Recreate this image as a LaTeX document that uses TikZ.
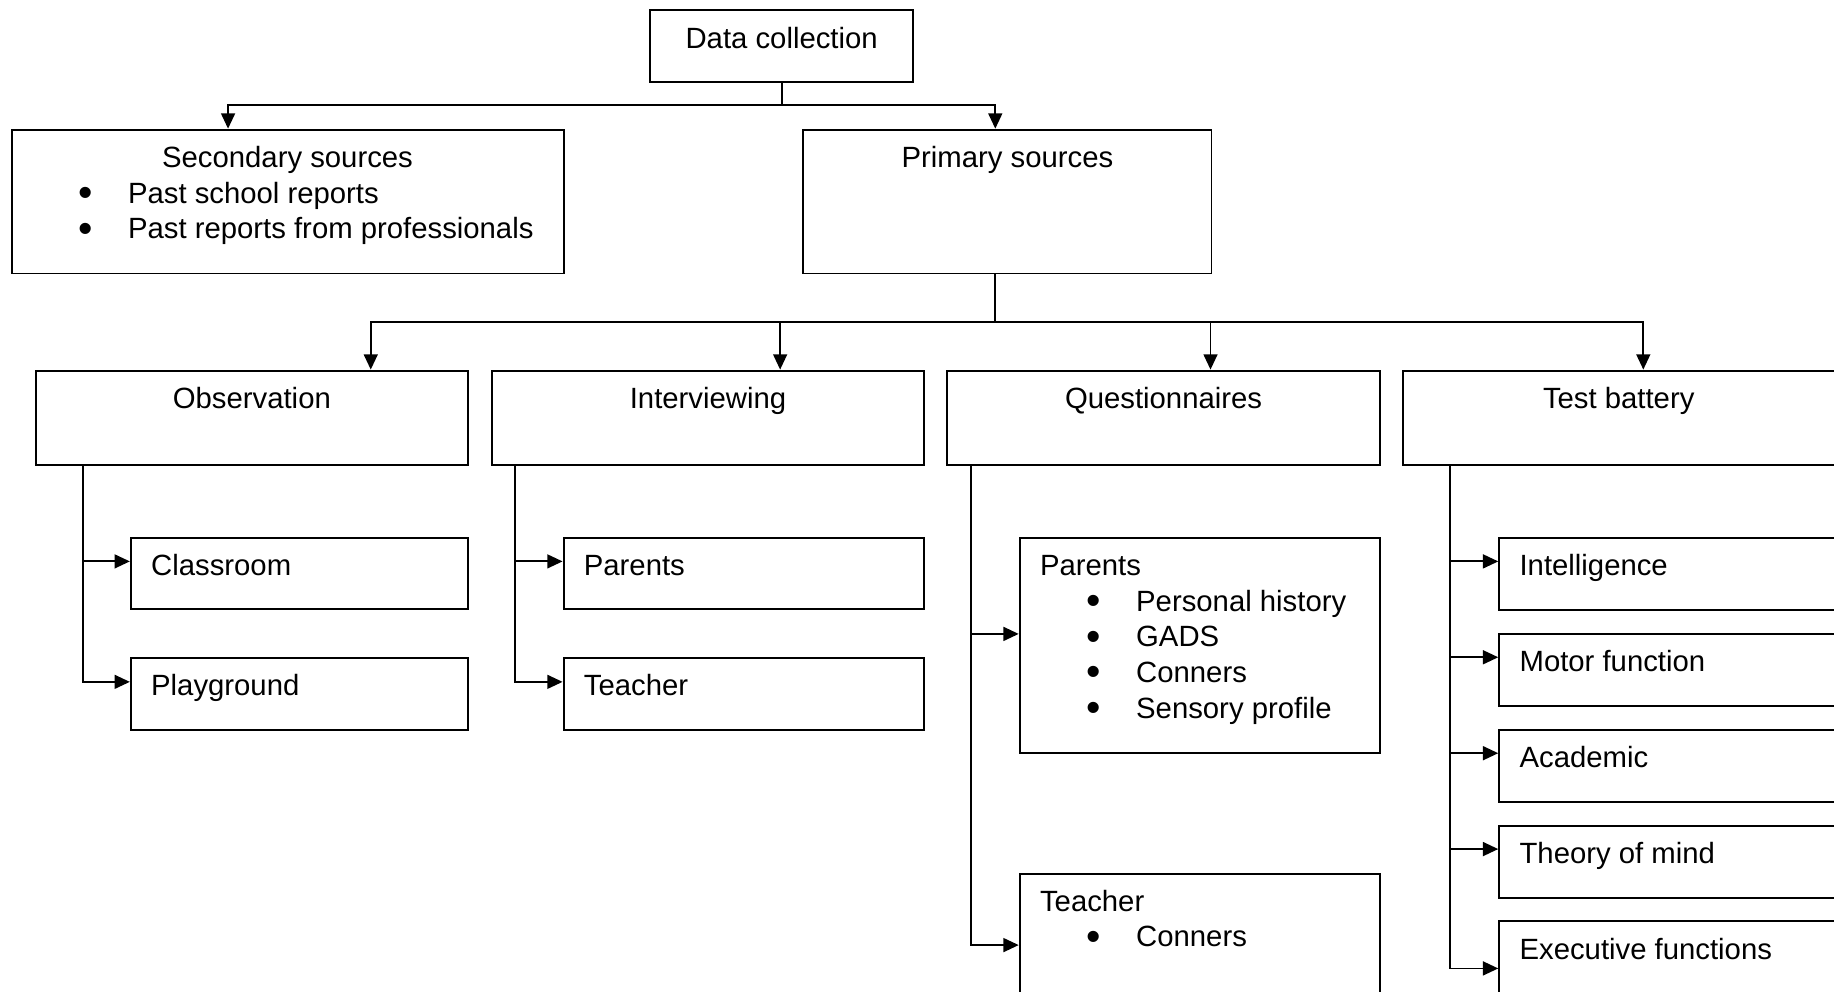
\documentclass[tikz,border=0pt]{standalone}
\usepackage{fontspec}
\setmainfont{Liberation Sans}
\usetikzlibrary{arrows.meta, positioning}

\newcommand{\blt}{\makebox[0.68cm][l]{\hspace{-0.03cm}\smash{\raisebox{-1.4pt}{\scalebox{1.4}{\textbullet}}}}}

\begin{document}
\begin{tikzpicture}[
  box/.style={draw, line width=0.8pt, anchor=north west, inner sep=0pt},
  title/.style={anchor=base, inner sep=0pt, font=\fontsize{12pt}{14.6pt}\selectfont},
  ltitle/.style={title, anchor=base west},
  blist/.style={title, anchor=base west},
  link/.style={line width=0.75pt},
  arr/.style={link, -{Triangle[length=0.22cm, width=0.2cm]}}
]
  \useasboundingbox (0,0) rectangle (26.40,-14.275);
  \clip (0,0) rectangle (26.40,-14.275);

  % Top levels
  \node[box, minimum width=3.788cm, minimum height=1.027cm] (dc) at (9.344,-0.135) {};
  \node[box, minimum width=7.946cm, minimum height=2.071cm] (sec) at (0.152,-1.852) {};
  \node[box, minimum width=5.875cm, minimum height=2.071cm] (prim) at (11.550,-1.852) {};

  \node[title] (dc-t) at ([yshift=-0.556cm]dc.north) {Data collection};
  \node[title] (sec-t) at ([yshift=-0.556cm]sec.north) {Secondary sources};
  \node[blist] (sec-l) at ([xshift=1.004cm, yshift=-1.070cm]sec.north west)
    {\begin{tabular}[t]{@{}l@{}}\blt Past school reports\\ \blt Past reports from professionals\end{tabular}};
  \node[title] (prim-t) at ([yshift=-0.556cm]prim.north) {Primary sources};

  % Methods
  \node[box, minimum width=6.213cm, minimum height=1.364cm] (obs) at (0.505,-5.320) {};
  \node[box, minimum width=6.213cm, minimum height=1.364cm] (int) at (7.071,-5.320) {};
  \node[box, minimum width=6.230cm, minimum height=1.364cm] (quest) at (13.620,-5.320) {};
  \node[box, minimum width=6.600cm, minimum height=1.364cm] (test) at (20.186,-5.320) {};

  \node[title] (obs-t) at ([yshift=-0.556cm]obs.north) {Observation};
  \node[title] (int-t) at ([yshift=-0.556cm]int.north) {Interviewing};
  \node[title] (quest-t) at ([yshift=-0.556cm]quest.north) {Questionnaires};
  \node[title] (test-t) at ([xshift=3.115cm, yshift=-0.556cm]test.north west) {Test battery};

  % Observation and interviewing
  \node[box, minimum width=4.849cm, minimum height=1.027cm] (cls) at (1.869,-7.728) {};
  \node[box, minimum width=4.849cm, minimum height=1.027cm] (play) at (1.869,-9.462) {};
  \node[box, minimum width=5.186cm, minimum height=1.027cm] (ipar) at (8.098,-7.728) {};
  \node[box, minimum width=5.186cm, minimum height=1.027cm] (itea) at (8.098,-9.462) {};

  \node[ltitle] (cls-t) at ([xshift=0.30cm, yshift=-0.556cm]cls.north west) {Classroom};
  \node[ltitle] (play-t) at ([xshift=0.30cm, yshift=-0.556cm]play.north west) {Playground};
  \node[ltitle] (ipar-t) at ([xshift=0.30cm, yshift=-0.556cm]ipar.north west) {Parents};
  \node[ltitle] (itea-t) at ([xshift=0.30cm, yshift=-0.556cm]itea.north west) {Teacher};

  % Questionnaires
  \node[box, minimum width=5.186cm, minimum height=3.098cm] (qpar) at (14.664,-7.728) {};
  \node[box, minimum width=5.186cm, minimum height=2.000cm] (qtea) at (14.664,-12.560) {};

  \node[ltitle] (qpar-t) at ([xshift=0.30cm, yshift=-0.556cm]qpar.north west) {Parents};
  \node[blist] (qpar-l) at ([xshift=1.004cm, yshift=-1.070cm]qpar.north west)
    {\begin{tabular}[t]{@{}l@{}}\blt Personal history\\ \blt GADS\\ \blt Conners\\ \blt Sensory profile\end{tabular}};
  \node[ltitle] (qtea-t) at ([xshift=0.30cm, yshift=-0.556cm]qtea.north west) {Teacher};
  \node[blist] (qtea-l) at ([xshift=1.004cm, yshift=-1.070cm]qtea.north west)
    {\begin{tabular}[t]{@{}l@{}}\blt Conners\end{tabular}};

  % Test battery
  \node[box, minimum width=5.200cm, minimum height=1.044cm] (intel) at (21.567,-7.728) {};
  \node[box, minimum width=5.200cm, minimum height=1.044cm] (motor) at (21.567,-9.108) {};
  \node[box, minimum width=5.200cm, minimum height=1.044cm] (acad) at (21.567,-10.489) {};
  \node[box, minimum width=5.200cm, minimum height=1.044cm] (tom) at (21.567,-11.869) {};
  \node[box, minimum width=5.200cm, minimum height=1.044cm] (exec) at (21.567,-13.250) {};

  \node[ltitle] (intel-t) at ([xshift=0.30cm, yshift=-0.556cm]intel.north west) {Intelligence};
  \node[ltitle] (motor-t) at ([xshift=0.30cm, yshift=-0.556cm]motor.north west) {Motor function};
  \node[ltitle] (acad-t) at ([xshift=0.30cm, yshift=-0.556cm]acad.north west) {Academic};
  \node[ltitle] (tom-t) at ([xshift=0.30cm, yshift=-0.556cm]tom.north west) {Theory of mind};
  \node[ltitle] (exec-t) at ([xshift=0.30cm, yshift=-0.556cm]exec.north west) {Executive functions};

  % Connectors, top
  \coordinate (sj) at (3.283,-1.515);
  \coordinate (pj) at (14.327,-1.515);
  \draw[arr] (dc.south) |- (sj) -- (sj |- sec.north);
  \draw[arr] (dc.south) |- (pj) -- (pj |- prim.north);

  % Connectors, methods
  \coordinate (oj) at (5.337,-4.630);
  \coordinate (ij) at (11.230,-4.630);
  \coordinate (qj) at (17.425,-4.630);
  \coordinate (tj) at (23.655,-4.630);
  \foreach \j/\b in {oj/obs, ij/int, qj/quest, tj/test}
    \draw[arr] (pj |- prim.south) |- (\j) -- (\j |- \b.north);

  % Connectors, children
  \draw[arr] ([xshift=0.69cm]obs.south west) |- ([yshift=-0.353cm]cls.north west);
  \draw[arr] ([xshift=0.69cm]obs.south west) |- ([yshift=-0.353cm]play.north west);
  \draw[arr] ([xshift=0.337cm]int.south west) |- ([yshift=-0.353cm]ipar.north west);
  \draw[arr] ([xshift=0.337cm]int.south west) |- ([yshift=-0.353cm]itea.north west);
  \draw[arr] ([xshift=0.354cm]quest.south west) |- ([yshift=-1.397cm]qpar.north west);
  \draw[arr] ([xshift=0.354cm]quest.south west) |- ([yshift=-1.044cm]qtea.north west);
  \foreach \b in {intel, motor, acad, tom}
    \draw[arr] ([xshift=0.69cm]test.south west) |- ([yshift=-0.353cm]\b.north west);
  \draw[arr] ([xshift=0.69cm]test.south west) |- ([yshift=-0.69cm]exec.north west);
\end{tikzpicture}
\end{document}
